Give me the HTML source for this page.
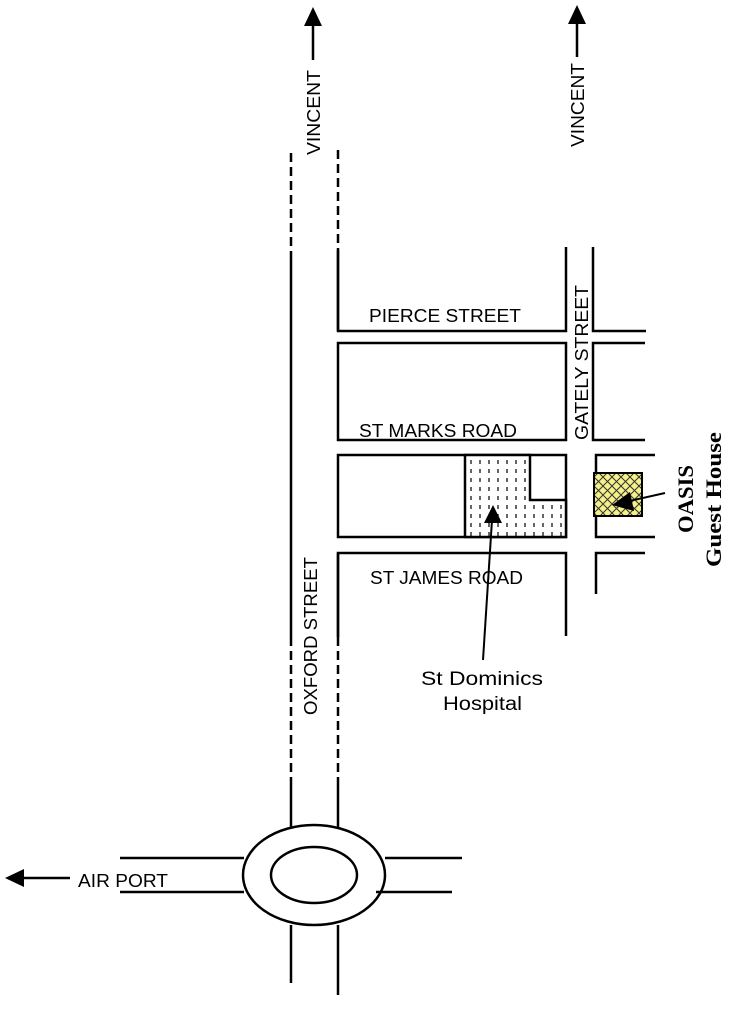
<!DOCTYPE html>
<html><head><meta charset="utf-8"><style>
html,body{margin:0;padding:0;background:#fff;}
svg{display:block;}
text{font-family:"Liberation Sans",sans-serif;fill:#000;}
</style></head><body>
<svg width="752" height="1024" viewBox="0 0 752 1024" xmlns="http://www.w3.org/2000/svg">
<defs>
<pattern id="dots" width="9" height="9" patternUnits="userSpaceOnUse">
<rect width="9" height="9" fill="#fff"/>
<line x1="3" y1="1" x2="3" y2="5" stroke="#000" stroke-width="1.2"/>
</pattern>
<pattern id="hatch" width="9" height="9" patternUnits="userSpaceOnUse">
<rect width="9" height="9" fill="#f4f08a"/>
<path d="M0 0L9 9M9 0L0 9" stroke="#333" stroke-width="1"/>
</pattern>
</defs>
<g stroke="#000" stroke-width="2.5" fill="none">
<line x1="291" y1="153" x2="291" y2="253" stroke-dasharray="9,5"/>
<line x1="291" y1="253" x2="291" y2="637"/>
<line x1="291" y1="637" x2="291" y2="780" stroke-dasharray="9,5"/>
<line x1="291" y1="780" x2="291" y2="828"/>
<line x1="338" y1="150" x2="338" y2="250" stroke-dasharray="9,5"/>
<line x1="338" y1="250" x2="338" y2="331"/>
<line x1="338" y1="553" x2="338" y2="637"/>
<line x1="338" y1="637" x2="338" y2="780" stroke-dasharray="9,5"/>
<line x1="338" y1="780" x2="338" y2="828"/>
<polyline points="338,250 338,331 566,331 566,247"/>
<polyline points="593,247 593,331 646,331"/>
<rect x="338" y="343" width="228" height="97"/>
<polyline points="645,343 593,343 593,440 645,440"/>
<rect x="338" y="455" width="228" height="82"/>
<polyline points="655,455 596,455 596,537 655,537"/>
<polyline points="338,637 338,553 566,553 566,636"/>
<polyline points="645,553 596,553 596,594"/>
</g>
<path d="M465 455 H530 V500 H566 V537 H465 Z" fill="url(#dots)" stroke="#000" stroke-width="2.5"/>
<rect x="594" y="473" width="48" height="43" fill="url(#hatch)" stroke="#000" stroke-width="2"/>
<line x1="665" y1="493" x2="625" y2="502" stroke="#000" stroke-width="2"/>
<polygon points="612,505 630,492 634,511" fill="#000"/>
<line x1="483" y1="660" x2="492" y2="520" stroke="#000" stroke-width="2"/>
<polygon points="493,505 484,523 502,523" fill="#000"/>
<ellipse cx="314" cy="875" rx="71" ry="50" fill="none" stroke="#000" stroke-width="2.5"/>
<ellipse cx="314" cy="875" rx="43" ry="28" fill="none" stroke="#000" stroke-width="2.5"/>
<g stroke="#000" stroke-width="2.5">
<line x1="120" y1="858" x2="244" y2="858"/>
<line x1="120" y1="892" x2="244" y2="892"/>
<line x1="385" y1="858" x2="462" y2="858"/>
<line x1="376" y1="892" x2="452" y2="892"/>
<line x1="291" y1="925" x2="291" y2="983"/>
<line x1="338" y1="925" x2="338" y2="995"/>
<line x1="22" y1="878" x2="70" y2="878"/>
<line x1="313" y1="22" x2="313" y2="60"/>
<line x1="577" y1="20" x2="577" y2="57"/>
</g>
<polygon points="5,878 24,869 24,887" fill="#000"/>
<polygon points="313,7 304,26 322,26" fill="#000"/>
<polygon points="577,5 568,24 586,24" fill="#000"/>
<text x="78" y="887" font-size="18" textLength="90" lengthAdjust="spacingAndGlyphs">AIR PORT</text>
<text transform="translate(320,155) rotate(-90)" font-size="18" textLength="85" lengthAdjust="spacingAndGlyphs">VINCENT</text>
<text transform="translate(584,147) rotate(-90)" font-size="18" textLength="84" lengthAdjust="spacingAndGlyphs">VINCENT</text>
<text x="369" y="322" font-size="18" textLength="152" lengthAdjust="spacingAndGlyphs">PIERCE STREET</text>
<text x="359" y="437" font-size="18" textLength="158" lengthAdjust="spacingAndGlyphs">ST MARKS ROAD</text>
<text x="370" y="584" font-size="18" textLength="153" lengthAdjust="spacingAndGlyphs">ST JAMES ROAD</text>
<text transform="translate(588,440) rotate(-90)" font-size="18" textLength="155" lengthAdjust="spacingAndGlyphs">GATELY STREET</text>
<text transform="translate(317,715) rotate(-90)" font-size="18" textLength="158" lengthAdjust="spacingAndGlyphs">OXFORD STREET</text>
<text x="421" y="685" font-size="19" textLength="122" lengthAdjust="spacingAndGlyphs">St Dominics</text>
<text x="443" y="710" font-size="19" textLength="79" lengthAdjust="spacingAndGlyphs">Hospital</text>
<text transform="translate(693,533) rotate(-90)" font-size="22" font-weight="bold" textLength="68" lengthAdjust="spacingAndGlyphs" style="font-family:'Liberation Serif',serif">OASIS</text>
<text transform="translate(721,567) rotate(-90)" font-size="22" font-weight="bold" textLength="135" lengthAdjust="spacingAndGlyphs" style="font-family:'Liberation Serif',serif">Guest House</text>
</svg>
</body></html>
